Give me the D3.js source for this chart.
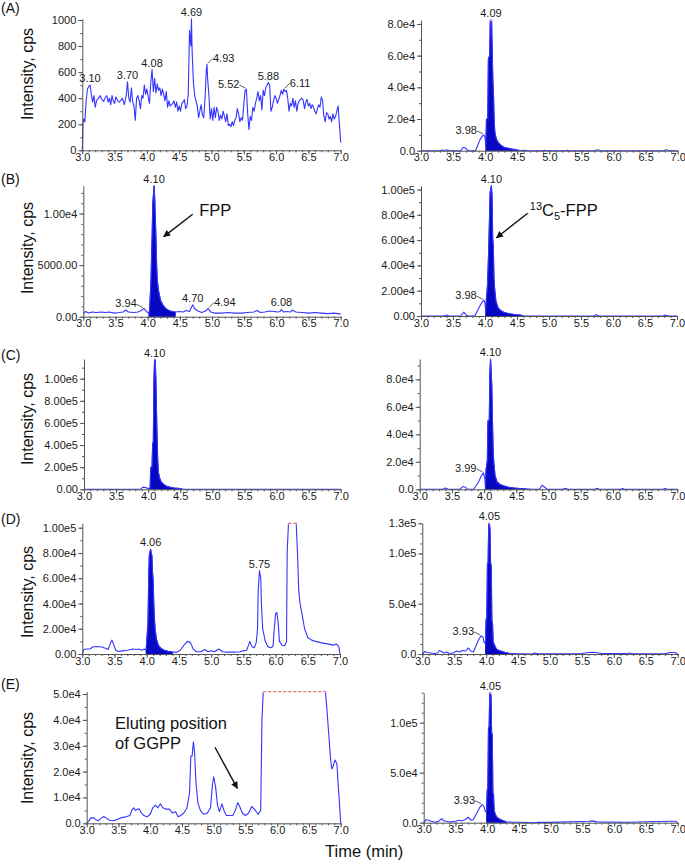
<!DOCTYPE html>
<html><head><meta charset="utf-8">
<script src="https://cdn.jsdelivr.net/npm/d3@7"></script>
<style>body{margin:0;background:#fff}</style>
</head><body>
<svg id="c" width="685" height="864"></svg>
<script>
// ---------------- DATA ----------------
const xTicks = [3.0,3.5,4.0,4.5,5.0,5.5,6.0,6.5,7.0];

// [time (min), intensity (cps)]
const traceA1 = [[3.00,0],[3.01,200],[3.02,240],[3.04,220],[3.06,380],[3.08,470],[3.10,490],[3.12,500],[3.14,430],[3.16,370],[3.18,420],[3.20,330],[3.22,380],[3.25,400],[3.28,420],[3.30,390],[3.33,375],[3.36,410],[3.38,420],[3.40,370],[3.42,400],[3.44,350],[3.46,420],[3.48,380],[3.50,360],[3.52,410],[3.55,380],[3.57,370],[3.60,385],[3.62,400],[3.65,350],[3.68,420],[3.70,525],[3.72,400],[3.74,370],[3.76,480],[3.78,370],[3.80,340],[3.82,230],[3.84,400],[3.86,420],[3.88,380],[3.90,320],[3.92,420],[3.94,400],[3.96,500],[3.98,430],[4.00,470],[4.02,410],[4.04,360],[4.06,520],[4.08,620],[4.10,450],[4.12,550],[4.14,440],[4.16,510],[4.18,460],[4.20,480],[4.22,420],[4.24,470],[4.26,430],[4.28,380],[4.30,450],[4.32,330],[4.34,380],[4.36,340],[4.38,350],[4.40,360],[4.42,380],[4.44,330],[4.46,370],[4.48,300],[4.50,340],[4.52,300],[4.54,360],[4.56,370],[4.58,390],[4.60,320],[4.62,340],[4.64,430],[4.66,920],[4.68,800],[4.69,1010],[4.70,760],[4.72,520],[4.74,420],[4.76,380],[4.78,340],[4.80,250],[4.82,300],[4.84,350],[4.86,270],[4.88,250],[4.90,400],[4.92,620],[4.93,660],[4.94,550],[4.96,420],[4.98,240],[5.00,320],[5.02,230],[5.04,330],[5.06,250],[5.08,330],[5.10,300],[5.12,230],[5.14,270],[5.16,240],[5.18,300],[5.20,260],[5.22,220],[5.24,280],[5.26,190],[5.28,200],[5.30,180],[5.32,220],[5.34,190],[5.36,230],[5.38,250],[5.40,320],[5.42,280],[5.44,220],[5.46,250],[5.48,230],[5.50,350],[5.52,460],[5.54,470],[5.56,280],[5.58,160],[5.60,260],[5.62,230],[5.64,330],[5.66,300],[5.68,360],[5.70,400],[5.72,450],[5.74,380],[5.76,420],[5.78,310],[5.80,460],[5.82,420],[5.84,480],[5.86,500],[5.88,520],[5.90,500],[5.92,300],[5.94,330],[5.96,380],[5.98,420],[6.00,400],[6.02,360],[6.04,390],[6.06,420],[6.08,460],[6.10,430],[6.12,470],[6.14,450],[6.16,460],[6.18,400],[6.20,300],[6.22,360],[6.24,340],[6.26,400],[6.28,330],[6.30,380],[6.32,300],[6.34,360],[6.36,380],[6.38,390],[6.40,400],[6.42,380],[6.44,320],[6.46,370],[6.48,390],[6.50,340],[6.52,360],[6.54,320],[6.56,350],[6.58,330],[6.60,300],[6.62,280],[6.64,320],[6.66,350],[6.68,330],[6.70,410],[6.72,380],[6.74,260],[6.76,220],[6.78,290],[6.80,280],[6.82,240],[6.84,260],[6.86,220],[6.88,280],[6.90,240],[6.92,260],[6.94,300],[6.96,340],[6.98,200],[7.00,60]];

const traceA2 = [[3.00,0],[3.30,0],[3.33,500],[3.36,0],[3.40,600],[3.44,0],[3.62,0],[3.66,2200],[3.70,1500],[3.73,0],[3.85,0],[3.88,3000],[3.92,7000],[3.96,9500],[3.98,10000],[4.00,8000],[4.01,2000],[4.02,20000],[4.04,20000],[4.05,58000],[4.07,60000],[4.08,83000],[4.10,83000],[4.11,62000],[4.12,45000],[4.13,35000],[4.14,20000],[4.15,12000],[4.17,8000],[4.19,6000],[4.22,4500],[4.26,3000],[4.30,2000],[4.36,1500],[4.42,1000],[4.50,500],[4.55,0],[4.62,300],[4.66,0],[4.90,0],[4.92,300],[4.95,0],[5.25,0],[5.28,300],[5.31,0],[5.70,0],[5.75,600],[5.80,0],[6.78,0],[6.82,600],[6.88,0],[7.00,0]];

const traceB1 = [[3.00,300],[3.04,500],[3.08,350],[3.14,450],[3.20,400],[3.28,450],[3.34,400],[3.40,450],[3.48,350],[3.56,400],[3.62,450],[3.66,650],[3.70,450],[3.78,400],[3.85,450],[3.90,600],[3.94,800],[3.97,600],[4.00,400],[4.02,300],[4.03,700],[4.05,3200],[4.07,8000],[4.08,11000],[4.10,12700],[4.11,11500],[4.12,9500],[4.13,7500],[4.14,5000],[4.15,3500],[4.17,2500],[4.20,1600],[4.24,1100],[4.28,800],[4.33,600],[4.38,500],[4.43,450],[4.50,500],[4.55,450],[4.60,600],[4.65,500],[4.68,900],[4.70,1150],[4.73,800],[4.78,550],[4.84,400],[4.90,550],[4.94,800],[4.98,450],[5.05,350],[5.15,350],[5.25,400],[5.35,350],[5.45,350],[5.55,400],[5.65,450],[5.70,600],[5.75,400],[5.82,450],[5.90,550],[5.96,500],[6.02,450],[6.06,500],[6.08,700],[6.11,450],[6.16,500],[6.22,450],[6.25,650],[6.30,450],[6.40,400],[6.50,350],[6.60,400],[6.70,350],[6.80,300],[6.90,350],[7.00,250]];

const traceB2 = [[3.00,0],[3.36,0],[3.40,800],[3.44,0],[3.62,0],[3.67,3000],[3.71,500],[3.74,0],[3.84,0],[3.88,4000],[3.92,8000],[3.96,11500],[3.98,12500],[4.00,10000],[4.01,3000],[4.02,12000],[4.04,25000],[4.06,57000],[4.08,98000],[4.10,103000],[4.11,95000],[4.12,62000],[4.13,55000],[4.14,30000],[4.15,22000],[4.17,12000],[4.20,7000],[4.24,4500],[4.30,2800],[4.38,1800],[4.46,1200],[4.55,800],[4.60,0],[5.70,0],[5.74,1000],[5.78,0],[6.78,0],[6.82,800],[6.86,0],[7.00,0]];

const traceC1 = [[3.00,0],[3.88,0],[3.92,20000],[3.96,15000],[4.00,8000],[4.03,6000],[4.04,200000],[4.06,200000],[4.07,420000],[4.08,420000],[4.09,1000000],[4.10,1170000],[4.11,1170000],[4.12,1000000],[4.13,700000],[4.14,450000],[4.15,250000],[4.16,150000],[4.18,100000],[4.20,70000],[4.24,45000],[4.28,30000],[4.33,20000],[4.40,12000],[4.47,8000],[4.52,5000],[4.55,0],[7.00,0]];

const traceC2 = [[3.00,0],[3.36,0],[3.40,1000],[3.44,0],[3.62,0],[3.67,2000],[3.71,1500],[3.74,0],[3.84,0],[3.88,3000],[3.92,6000],[3.96,10000],[3.99,12000],[4.01,8000],[4.02,3000],[4.03,14000],[4.05,21000],[4.06,50000],[4.08,50000],[4.09,85000],[4.10,95000],[4.11,87000],[4.12,75000],[4.13,50000],[4.14,30000],[4.15,20000],[4.17,10000],[4.20,5500],[4.25,3500],[4.30,2500],[4.38,1500],[4.46,1000],[4.55,600],[4.65,300],[4.75,0],[4.86,0],[4.90,3000],[4.94,1500],[4.98,0],[5.22,0],[5.26,800],[5.30,0],[5.72,0],[5.75,800],[5.79,0],[6.12,0],[6.15,500],[6.18,0],[6.78,0],[6.81,500],[6.85,0],[7.00,0]];

const traceD1 = [[3.00,0],[3.02,3500],[3.06,4000],[3.12,4000],[3.16,5500],[3.22,6000],[3.30,5500],[3.36,4500],[3.40,3500],[3.44,9000],[3.46,11000],[3.49,7000],[3.52,3000],[3.56,2000],[3.62,2500],[3.70,3000],[3.78,4000],[3.84,3500],[3.88,4000],[3.92,3000],[3.96,4000],[3.99,3000],[4.00,10000],[4.02,25000],[4.03,60000],[4.04,78000],[4.06,83000],[4.08,78000],[4.09,65000],[4.10,58000],[4.11,40000],[4.12,28000],[4.13,20000],[4.15,12000],[4.18,7000],[4.22,4500],[4.27,3000],[4.33,2200],[4.40,1500],[4.47,1500],[4.52,3000],[4.58,7000],[4.63,10000],[4.68,9000],[4.72,4000],[4.77,1800],[4.84,1800],[4.90,3500],[4.95,1800],[5.00,2500],[5.05,1800],[5.12,4000],[5.18,1800],[5.25,1500],[5.35,1500],[5.45,1800],[5.50,2500],[5.55,3000],[5.58,7000],[5.60,10000],[5.63,6000],[5.67,5000],[5.70,9000],[5.72,20000],[5.73,50000],[5.75,66000],[5.77,60000],[5.78,40000],[5.80,20000],[5.84,10000],[5.88,6000],[5.92,5000],[5.96,6000],[5.98,20000],[6.00,32000],[6.02,33000],[6.04,25000],[6.06,10000],[6.10,7000],[6.14,6500],[6.17,10000],[6.18,80000],[6.20,103500],[6.32,103500],[6.34,80000],[6.36,50000],[6.38,40000],[6.41,32000],[6.45,20000],[6.50,13000],[6.56,11000],[6.62,10000],[6.70,9000],[6.80,8000],[6.90,7000],[6.94,8000],[6.98,6000],[7.00,0]];

const traceD2 = [[3.00,0],[3.04,2500],[3.08,1500],[3.14,1000],[3.20,500],[3.24,1000],[3.27,3500],[3.30,2500],[3.34,1000],[3.38,2000],[3.42,500],[3.48,1000],[3.54,3000],[3.58,2000],[3.63,3500],[3.68,3000],[3.72,6000],[3.76,3000],[3.80,2000],[3.84,8000],[3.88,14000],[3.92,18000],[3.95,17000],[3.97,11000],[3.99,12000],[4.00,35000],[4.01,35000],[4.02,90000],[4.03,90000],[4.04,130000],[4.05,131000],[4.06,125000],[4.07,90000],[4.08,88000],[4.09,33000],[4.10,30000],[4.11,12000],[4.13,9000],[4.16,5000],[4.20,3500],[4.25,2500],[4.30,1500],[4.36,800],[4.45,400],[4.60,300],[4.72,0],[4.76,1000],[4.82,300],[5.00,300],[5.50,500],[5.60,1500],[5.66,1800],[5.72,1500],[5.80,500],[6.20,500],[6.24,1000],[6.30,300],[6.80,300],[6.88,1500],[6.96,1500],[7.00,0]];

const traceE1 = [[3.00,0],[3.03,800],[3.06,2000],[3.10,2200],[3.14,1500],[3.18,1000],[3.22,1800],[3.27,2600],[3.31,2000],[3.36,1200],[3.42,1000],[3.48,1500],[3.55,2200],[3.62,2500],[3.68,3000],[3.71,5000],[3.74,6000],[3.77,5000],[3.80,5500],[3.83,5500],[3.86,4000],[3.90,3000],[3.95,2500],[4.00,3500],[4.04,6000],[4.08,7000],[4.12,6000],[4.16,7500],[4.20,6000],[4.24,5500],[4.30,5500],[4.35,4000],[4.40,4500],[4.44,2500],[4.48,3000],[4.53,4000],[4.58,6000],[4.62,12000],[4.64,26000],[4.66,26000],[4.68,31500],[4.70,27000],[4.72,16000],[4.75,8000],[4.79,5000],[4.84,3500],[4.90,4000],[4.95,6000],[4.98,15000],[5.00,18000],[5.03,14000],[5.06,7000],[5.09,4500],[5.13,7500],[5.16,5000],[5.20,3000],[5.30,3000],[5.34,5000],[5.38,8000],[5.41,6500],[5.45,4000],[5.50,3000],[5.55,4000],[5.60,6500],[5.64,5500],[5.70,3500],[5.74,5000],[5.76,40000],[5.78,50900],[6.76,50900],[6.78,45000],[6.81,35000],[6.84,25000],[6.86,21000],[6.88,22000],[6.91,24500],[6.94,23000],[6.96,15000],[6.98,8000],[7.00,0]];

const traceE2 = [[3.00,0],[3.04,3000],[3.08,2500],[3.12,1500],[3.18,500],[3.24,1500],[3.28,4000],[3.32,2000],[3.38,1000],[3.44,800],[3.50,1500],[3.56,2500],[3.60,2000],[3.65,3000],[3.70,5500],[3.74,2500],[3.78,3000],[3.83,9000],[3.88,15000],[3.92,18000],[3.95,16000],[3.97,11000],[3.99,12000],[4.00,33000],[4.01,33000],[4.02,95000],[4.03,95000],[4.04,130000],[4.05,133000],[4.06,127000],[4.07,90000],[4.08,88000],[4.09,30000],[4.10,28000],[4.11,12000],[4.13,8000],[4.16,5000],[4.20,3500],[4.25,2000],[4.30,1000],[4.40,500],[4.50,400],[4.75,0],[4.80,500],[5.00,300],[5.60,1500],[5.66,1800],[5.72,800],[6.20,500],[6.88,1500],[6.96,1500],[7.00,0]];

// integrated-peak windows (min)
const fillA2 = [4.01,4.50], fillB1 = [4.02,4.43], fillB2 = [4.01,4.60], fillC1 = [4.03,4.53],
      fillC2 = [4.02,4.65], fillD1 = [3.99,4.40], fillD2 = [3.99,4.36], fillE2 = [3.99,4.35];

// y-axis top values
const yMaxA1 = 1010, yMaxA2 = 82500, yMaxB1 = 12700, yMaxB2 = 103000, yMaxC1 = 1178000,
      yMaxC2 = 94800, yMaxD1 = 103500, yMaxD2 = 130000, yMaxE1 = 50900, yMaxE2 = 130000;

// y ticks and their labels
const yTicksA1 = [0,200,400,600,800,1000], yLabelsA1 = ["0","200","400","600","800","1000"];
const yTicksA2 = [0,2e4,4e4,6e4,8e4], yLabelsA2 = ["0.0","2.0e4","4.0e4","6.0e4","8.0e4"];
const yTicksB1 = [0,5000,1e4], yLabelsB1 = ["0.00","5000.00","1.00e4"];
const yTicksB2 = [0,2e4,4e4,6e4,8e4,1e5], yLabelsB2 = ["0.00","2.00e4","4.00e4","6.00e4","8.00e4","1.00e5"];
const yTicksC1 = [0,2e5,4e5,6e5,8e5,1e6], yLabelsC1 = ["0.00","2.00e5","4.00e5","6.00e5","8.00e5","1.00e6"];
const yTicksC2 = [0,2e4,4e4,6e4,8e4], yLabelsC2 = ["0.0","2.0e4","4.0e4","6.0e4","8.0e4"];
const yTicksD1 = [0,2e4,4e4,6e4,8e4,1e5], yLabelsD1 = ["0.00","2.00e4","4.00e4","6.00e4","8.00e4","1.00e5"];
const yTicksD2 = [0,5e4,1e5,1.3e5], yLabelsD2 = ["0.0","5.0e4","1.0e5","1.3e5"];
const yTicksE1 = [0,1e4,2e4,3e4,4e4,5e4], yLabelsE1 = ["0.0","1.0e4","2.0e4","3.0e4","4.0e4","5.0e4"];
const yTicksE2 = [0,5e4,1e5], yLabelsE2 = ["0.0","5.0e4","1.0e5"];
const yMinorA1 = 100, yMinorA2 = 1e4, yMinorB1 = 1000, yMinorB2 = 1e4, yMinorC1 = 1e5,
      yMinorC2 = 1e4, yMinorD1 = 1e4, yMinorD2 = 1e4, yMinorE1 = 5000, yMinorE2 = 1e4;

// retention-time peak labels: [time, label, placement]
const peaksA1 = [[3.12,"3.10","top"],[3.70,"3.70","top"],[4.08,"4.08","top"],[4.69,"4.69","top"],[4.93,"4.93","right"],[5.54,"5.52","left"],[5.88,"5.88","top"],[6.12,"6.11","right"]];
const peaksA2 = [[4.09,"4.09","top"],[3.98,"3.98","left"]];
const peaksB1 = [[4.10,"4.10","top"],[3.94,"3.94","left"],[4.70,"4.70","top"],[4.94,"4.94","right"],[6.08,"6.08","top"]];
const peaksB2 = [[4.10,"4.10","top"],[3.98,"3.98","left"]];
const peaksC1 = [[4.10,"4.10","top"]];
const peaksC2 = [[4.10,"4.10","top"],[3.99,"3.99","left"]];
const peaksD1 = [[4.06,"4.06","top"],[5.75,"5.75","top"]];
const peaksD2 = [[4.05,"4.05","top"],[3.93,"3.93","left"]];
const peaksE1 = [];
const peaksE2 = [[4.05,"4.05","top"],[3.93,"3.93","left"]];

const panelLetters = ["(A)","(B)","(C)","(D)","(E)"];
const yTitle = "Intensity, cps";
const xTitle = "Time (min)";

// ---------------- LAYOUT / STYLE ----------------
const FONT = '"Liberation Sans", Arial, Helvetica, sans-serif';
const LINE = "#3434ff", FILL = "#0808c2", AXIS = "#555", TXT = "#1a1a1a";

const layout = {
  A1:{x0:82.3,x1:340.7,y0:150.3,y1:18.7}, A2:{x0:421,x1:677.7,y0:150.7,y1:20},
  B1:{x0:83.3,x1:340.7,y0:316.7,y1:185.7}, B2:{x0:421,x1:677,y0:316,y1:185.7},
  C1:{x0:84,x1:340.7,y0:489.3,y1:359}, C2:{x0:419.7,x1:677.3,y0:489.3,y1:359},
  D1:{x0:82.3,x1:340,y0:654,y1:523.3}, D2:{x0:422.3,x1:677.7,y0:654,y1:523.3},
  E1:{x0:86.7,x1:340.7,y0:823.3,y1:691.7}, E2:{x0:423.7,x1:677.7,y0:822.7,y1:692.7}
};
const letterY = [13,184,360,524,689];
const titleY = [74,248,419,592,758];

const panels = [
  {id:"A1",trace:traceA1,fill:null,yMax:yMaxA1,ticks:yTicksA1,labels:yLabelsA1,minor:yMinorA1,peaks:peaksA1},
  {id:"A2",trace:traceA2,fill:fillA2,yMax:yMaxA2,ticks:yTicksA2,labels:yLabelsA2,minor:yMinorA2,peaks:peaksA2},
  {id:"B1",trace:traceB1,fill:fillB1,yMax:yMaxB1,ticks:yTicksB1,labels:yLabelsB1,minor:yMinorB1,peaks:peaksB1},
  {id:"B2",trace:traceB2,fill:fillB2,yMax:yMaxB2,ticks:yTicksB2,labels:yLabelsB2,minor:yMinorB2,peaks:peaksB2},
  {id:"C1",trace:traceC1,fill:fillC1,yMax:yMaxC1,ticks:yTicksC1,labels:yLabelsC1,minor:yMinorC1,peaks:peaksC1},
  {id:"C2",trace:traceC2,fill:fillC2,yMax:yMaxC2,ticks:yTicksC2,labels:yLabelsC2,minor:yMinorC2,peaks:peaksC2},
  {id:"D1",trace:traceD1,fill:fillD1,yMax:yMaxD1,ticks:yTicksD1,labels:yLabelsD1,minor:yMinorD1,peaks:peaksD1},
  {id:"D2",trace:traceD2,fill:fillD2,yMax:yMaxD2,ticks:yTicksD2,labels:yLabelsD2,minor:yMinorD2,peaks:peaksD2},
  {id:"E1",trace:traceE1,fill:null,yMax:yMaxE1,ticks:yTicksE1,labels:yLabelsE1,minor:yMinorE1,peaks:peaksE1},
  {id:"E2",trace:traceE2,fill:fillE2,yMax:yMaxE2,ticks:yTicksE2,labels:yLabelsE2,minor:yMinorE2,peaks:peaksE2}
];

// annotation arrows in data coordinates of their panel
const annotations = [
  {panel:"B1", tail:[4.70,9930], tip:[4.25,7760], text:[{t:"FPP"}], at:[4.80,9750]},
  {panel:"B2", tail:[4.667,81200], tip:[4.18,61900], text:[{t:"13",sup:true},{t:"C"},{t:"5",sub:true},{t:"-FPP"}], at:[4.70,79000]},
  {panel:"E1", tail:[5.02,29400], tip:[5.372,13540], lines:["Eluting position","of GGPP"], at:[3.446,36360]}
];

// ---------------- DRAW ----------------
const svg = d3.select("#c");
svg.append("defs").append("marker").attr("id","ah").attr("viewBox","0 0 10 10")
  .attr("refX",9).attr("refY",5).attr("markerWidth",9).attr("markerHeight",7)
  .attr("markerUnits","userSpaceOnUse").attr("orient","auto")
  .append("path").attr("d","M0,0L10,5L0,10z").attr("fill","#111");

const scales = {};
const xMinor = d3.range(30,71).map(d=>d/10);

panels.forEach(p => {
  const L = layout[p.id];
  const x = d3.scaleLinear().domain([3,7]).range([L.x0,L.x1]);
  const y = d3.scaleLinear().domain([0,p.yMax]).range([L.y0,L.y1]);
  scales[p.id] = {x,y};
  const g = svg.append("g");

  if (p.fill) {
    const pts = p.trace.filter(d => d[0] >= p.fill[0] - 1e-9 && d[0] <= p.fill[1] + 1e-9);
    g.append("path").datum(pts)
      .attr("d", d3.area().x(d=>x(d[0])).y0(y(0)).y1(d=>y(Math.min(d[1],p.yMax))))
      .attr("fill", FILL).attr("stroke", FILL).attr("stroke-width",0.8);
  }
  g.append("path").datum(p.trace)
    .attr("d", d3.line().x(d=>x(d[0])).y(d=>y(Math.min(d[1],p.yMax))))
    .attr("fill","none").attr("stroke",LINE).attr("stroke-width",1.1).attr("stroke-linejoin","round");

  // saturated segments
  for (let i=1;i<p.trace.length;i++){
    const a=p.trace[i-1], b=p.trace[i];
    if (a[1] >= p.yMax && b[1] >= p.yMax) {
      g.append("line").attr("x1",x(a[0])).attr("x2",x(b[0])).attr("y1",y(p.yMax)).attr("y2",y(p.yMax))
        .attr("stroke","#fff").attr("stroke-width",2.5);
      g.append("line").attr("x1",x(a[0])).attr("x2",x(b[0])).attr("y1",y(p.yMax)).attr("y2",y(p.yMax))
        .attr("stroke","#e57373").attr("stroke-width",1.2).attr("stroke-dasharray","3,2");
    }
  }

  // axes
  const minorY = d3.range(0, p.yMax + 1e-6, p.minor);
  g.append("g").attr("class","ax").attr("transform",`translate(${L.x0},0)`)
    .call(d3.axisLeft(y).tickValues(minorY).tickFormat("").tickSize(2).tickSizeOuter(0))
    .select(".domain").remove();
  g.append("g").attr("class","ax").attr("transform",`translate(0,${L.y0})`)
    .call(d3.axisBottom(x).tickValues(xMinor).tickFormat("").tickSize(2).tickSizeOuter(0))
    .select(".domain").remove();
  g.append("g").attr("class","ax").attr("transform",`translate(${L.x0},0)`)
    .call(d3.axisLeft(y).tickValues(p.ticks).tickFormat((d,i)=>p.labels[i]).tickSize(4).tickPadding(2).tickSizeOuter(0));
  g.append("g").attr("class","ax").attr("transform",`translate(0,${L.y0})`)
    .call(d3.axisBottom(x).tickValues(xTicks).tickFormat(d3.format(".1f")).tickSize(4).tickPadding(-1).tickSizeOuter(0));

  // peak labels
  p.peaks.forEach(([t,lab,mode]) => {
    const near = p.trace.filter(d => Math.abs(d[0]-t) <= 0.021);
    const pk = near.reduce((m,d)=> d[1]>m[1]?d:m, near[0]);
    const px = x(pk[0]), py = y(Math.min(pk[1],p.yMax));
    const tx = g.append("text").text(lab).attr("font-size",11).attr("fill",TXT).attr("font-family",FONT);
    if (mode==="top") {
      tx.attr("x",x(t)).attr("y",py-3).attr("text-anchor","middle");
    } else if (mode==="left") {
      tx.attr("x",px-7).attr("y",py-1).attr("text-anchor","end");
      g.append("path").attr("d",`M${px-7},${py-4}L${px-1},${py-1}`).attr("stroke","#333").attr("stroke-width",0.8).attr("fill","none");
    } else {
      tx.attr("x",px+6).attr("y",py-2).attr("text-anchor","start");
      g.append("path").attr("d",`M${px+1},${py-1}L${px+6},${py-6}`).attr("stroke","#333").attr("stroke-width",0.8).attr("fill","none");
    }
  });
});

svg.selectAll(".ax path, .ax line").attr("stroke",AXIS).attr("stroke-width",1);
svg.selectAll(".ax text").attr("font-family",FONT).attr("font-size",11).attr("fill",TXT);

// annotations
annotations.forEach(a => {
  const {x,y} = scales[a.panel];
  svg.append("line").attr("x1",x(a.tail[0])).attr("y1",y(a.tail[1]))
    .attr("x2",x(a.tip[0])).attr("y2",y(a.tip[1]))
    .attr("stroke","#111").attr("stroke-width",1.4).attr("marker-end","url(#ah)");
  const t = svg.append("text").attr("x",x(a.at[0])).attr("y",y(a.at[1]))
    .attr("font-family",FONT).attr("font-size",16.5).attr("fill","#111");
  if (a.lines) {
    a.lines.forEach((ln,i)=> t.append("tspan").attr("x",x(a.at[0])).attr("dy", i===0?0:20).text(ln));
  } else {
    let shift = 0;
    a.text.forEach(s => {
      const ts = t.append("tspan").text(s.t);
      if (s.sup) { ts.attr("font-size",11).attr("dy",-6); shift = -6; }
      else if (s.sub) { ts.attr("font-size",11).attr("dy",4 - shift); shift = 4; }
      else { ts.attr("dy", -shift); shift = 0; }
    });
  }
});

// panel letters and axis titles
panelLetters.forEach((l,i) => {
  svg.append("text").attr("x",1).attr("y",letterY[i]).text(l)
    .attr("font-family",FONT).attr("font-size",14).attr("fill","#111");
  svg.append("text").attr("transform",`translate(32.5,${titleY[i]}) rotate(-90)`)
    .attr("text-anchor","middle").text(yTitle)
    .attr("font-family",FONT).attr("font-size",16).attr("fill","#111");
});
svg.append("text").attr("x",325).attr("y",857).text(xTitle)
  .attr("font-family",FONT).attr("font-size",16.5).attr("fill","#111");
</script>
</body></html>
